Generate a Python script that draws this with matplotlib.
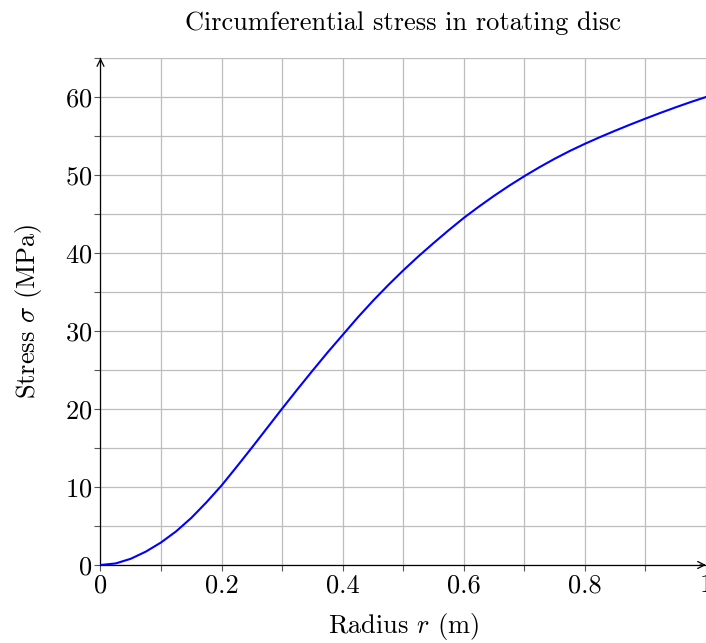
import matplotlib
matplotlib.use('Agg')
import matplotlib.pyplot as plt
from matplotlib.ticker import MultipleLocator

# 字体：仿 LaTeX 的 Computer Modern
matplotlib.rcParams['font.family'] = 'serif'
matplotlib.rcParams['font.serif'] = ['cmr10', 'DejaVu Serif']
matplotlib.rcParams['mathtext.fontset'] = 'cm'
matplotlib.rcParams['axes.formatter.use_mathtext'] = True
matplotlib.rcParams['axes.unicode_minus'] = False

# values
radius = [0.0, 0.025, 0.05, 0.075, 0.1, 0.125, 0.15, 0.175, 0.2, 0.225,
          0.25, 0.275, 0.3, 0.325, 0.35, 0.375, 0.4, 0.425, 0.45, 0.475,
          0.5, 0.525, 0.55, 0.575, 0.6, 0.625, 0.65, 0.675, 0.7, 0.725,
          0.75, 0.775, 0.8, 0.825, 0.85, 0.875, 0.9, 0.925, 0.95, 0.975, 1.0]
stress = [0.0, 0.2, 0.8, 1.72, 2.89, 4.32, 6.04, 8.04, 10.2, 12.6,
          15.05, 17.55, 20.05, 22.5, 24.9, 27.25, 29.5, 31.75, 33.87, 35.87,
          37.77, 39.57, 41.27, 42.92, 44.5, 45.95, 47.33, 48.63, 49.85, 51.0,
          52.08, 53.08, 54.0, 54.86, 55.68, 56.47, 57.23, 57.97, 58.68, 59.36,
          60.0]
x_ticks = [0, 0.2, 0.4, 0.6, 0.8, 1.0]
x_tick_labels = ['0', '0.2', '0.4', '0.6', '0.8', '1']
y_ticks = [0, 10, 20, 30, 40, 50, 60]

fig = plt.figure(figsize=(7.06, 6.43), dpi=100)
ax = fig.add_axes([100.5 / 706, 1 - 565 / 643, 605.5 / 706, (565 - 58) / 643])

ax.plot(radius, stress, color='blue', lw=1.5, zorder=3)

ax.set_xlim(0, 1)
ax.set_ylim(0, 65)
ax.set_xticks(x_ticks)
ax.set_xticklabels(x_tick_labels)
ax.set_yticks(y_ticks)
ax.xaxis.set_minor_locator(MultipleLocator(0.1))
ax.yaxis.set_minor_locator(MultipleLocator(5))

ax.grid(which='both', color='#bdbdbd', lw=0.9, zorder=0)
ax.set_axisbelow(True)

for side in ['top', 'right']:
    ax.spines[side].set_visible(False)
for side in ['left', 'bottom']:
    ax.spines[side].set_color('black')
    ax.spines[side].set_linewidth(0.9)

ax.tick_params(which='both', direction='out', length=4, width=0.8,
               color='#555555', labelsize=19, pad=2)

# 坐标轴箭头
ax.annotate('', xy=(0, 1.0), xytext=(0, 0.99), xycoords='axes fraction',
            arrowprops=dict(arrowstyle='->,head_length=0.5,head_width=0.25',
                            lw=0.9, color='black', shrinkA=0, shrinkB=0))
ax.annotate('', xy=(1.0, 0), xytext=(0.99, 0), xycoords='axes fraction',
            arrowprops=dict(arrowstyle='->,head_length=0.5,head_width=0.25',
                            lw=0.9, color='black', shrinkA=0, shrinkB=0),
            annotation_clip=False)

ax.set_title('Circumferential stress in rotating disc', fontsize=19, pad=20)
ax.set_xlabel('Radius $r$ (m)', fontsize=19, labelpad=10)
ax.set_ylabel('Stress $\\sigma$ (MPa)', fontsize=19, labelpad=15)

fig.savefig('out.png', dpi=100)
